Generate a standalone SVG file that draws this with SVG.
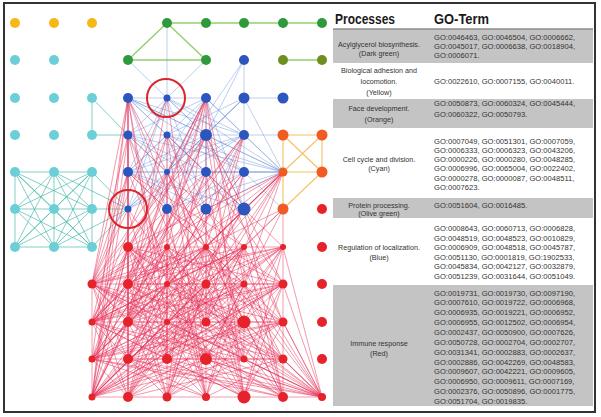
<svg xmlns="http://www.w3.org/2000/svg" width="601" height="417" viewBox="0 0 601 417">
<style>
.re{fill:none;stroke:#e8365d;stroke-opacity:.5;stroke-width:1}
.be{fill:none;stroke:#5f86d4;stroke-opacity:.45;stroke-width:.9}
.ce{fill:none;stroke:#3db7a6;stroke-opacity:.65;stroke-width:1}
.oe{fill:none;stroke:#f5b548;stroke-opacity:.85;stroke-width:1.1}
.ge{fill:none;stroke:#93cf6f;stroke-width:1.4}
.y{fill:#f7b716}.c{fill:#6ccfd8}.g{fill:#2f9a3c}.ol{fill:#6e8e22}.b{fill:#2b56bd}.r{fill:#e6222b}.or{fill:#f15a24}
.hl{fill:none;stroke:#d9262c;stroke-width:2}
.row{fill:#c4c4c4}
.t{font-family:"Liberation Sans",Arial,sans-serif;font-size:7.6px;fill:#333333}
.l{font-family:"Liberation Sans",Arial,sans-serif;font-size:7.2px;fill:#333333;text-anchor:middle}
.h{font-family:"Liberation Sans",Arial,sans-serif;font-size:14px;font-weight:bold;fill:#1a1a1a}
</style>
<rect x="0" y="0" width="601" height="417" fill="#ffffff"/>
<g id="connectors">
<g id="green-edges">
<path class="ge" d="M167 23L322 23M167 23L128 60M167 23L206 60M128 60L206 60M283 60L322 60"/>
</g>
<g id="orange-edges">
<path class="oe" d="M283 135L322 135M283 135L283 209M322 135L322 172M283 135L322 172M322 135L283 172M283 172L322 172M283 209L322 172"/>
</g>
<g id="cyan-edges">
<path class="ce" d="M92 98L92 135M92 98L128 135M92 135L128 135"/>
<path class="ce" d="M15 172L92 172M15 209L92 209M15 247L92 247M15 172L15 247M54 172L54 247M92 172L92 247"/>
<path class="ce" d="M15 172L54 209M15 172L92 209M15 172L54 247M15 172L92 247"/>
<path class="ce" d="M54 172L15 209M54 172L92 209M54 172L15 247M54 172L92 247"/>
<path class="ce" d="M92 172L15 209M92 172L54 209M92 172L15 247M92 172L54 247"/>
<path class="ce" d="M15 209L54 247M15 209L92 247M54 209L15 247M54 209L92 247M92 209L15 247M92 209L54 247"/>
<path class="ce" d="M92 172L128 209M54 172L128 209M92 209L128 209M92 247L128 209M54 247L128 209"/>
</g>
<g id="blue-edges">
<path class="be" d="M167 23L167 98M128 60L167 98M206 60L167 98M128 98L206 98M244 98L283 98M128 98L128 209M244 135L244 209M206 98L206 209M244 60L244 98M244 60L206 135M244 60L167 172"/>
<path class="be" d="M128 98L206 135M128 98L244 172M128 98L167 209M128 98L244 135M128 98L206 172M128 98L283 172M128 98L167 135"/>
<path class="be" d="M167 98L128 135M167 98L206 135M167 98L128 172M167 98L244 172M167 98L206 209M167 98L167 135M167 98L244 135M167 98L283 172M167 98L128 209"/>
<path class="be" d="M206 98L128 135M206 98L167 172M206 98L244 135M206 98L128 209M206 98L244 209M206 98L283 172M206 98L128 172"/>
<path class="be" d="M244 98L206 135M244 98L167 172M244 98L128 209M244 98L244 135M244 98L283 172M244 98L167 135"/>
<path class="be" d="M128 135L206 172M128 135L244 209M128 135L167 172M128 135L244 135M128 135L283 172M128 135L167 209"/>
<path class="be" d="M167 135L244 172M167 135L128 172M167 135L206 209M167 135L167 209M167 135L283 172M167 135L244 209"/>
<path class="be" d="M206 135L128 172M206 135L244 209M206 135L167 209M206 135L206 172M206 135L283 172M206 135L128 209"/>
<path class="be" d="M244 135L128 209M244 135L167 172M244 135L283 172M244 135L283 135M244 135L206 209M244 135L128 172"/>
<path class="be" d="M128 172L206 209M128 172L244 172M128 172L283 172M128 172L244 209M206 172L128 209M206 172L244 209M206 172L283 172"/>
<path class="be" d="M244 172L283 172M244 172L167 209M244 172L283 209M167 209L283 172M206 209L283 172M244 209L283 172"/>
</g>
<g id="red-edges">
<path class="re" d="M92 397L322 397M92 284L92 397M283 209L283 397M128 247L128 397M92 284L283 284M128 247L283 247"/>
<path class="re" d="M92 284L128 247M92 284L206 247M92 284L283 247M92 284L167 322M92 284L244 322M92 284L128 359M92 284L206 359M92 284L283 359M92 284L128 397M92 284L206 397M92 284L283 397M92 284L128 322M92 284L322 397"/>
<path class="re" d="M92 322L167 247M92 322L244 247M92 322L128 284M92 322L206 284M92 322L283 284M92 322L283 322M92 322L167 359M92 322L244 359M92 322L167 397M92 322L244 397M92 322L128 397M92 322L322 397"/>
<path class="re" d="M92 359L128 247M92 359L206 247M92 359L167 284M92 359L244 284M92 359L128 322M92 359L206 322M92 359L283 322M92 359L283 359M92 359L128 397M92 359L206 397M92 359L283 397M92 359L322 397"/>
<path class="re" d="M92 397L167 247M92 397L244 247M92 397L128 284M92 397L206 284M92 397L283 284M92 397L167 322M92 397L244 322M92 397L128 359M92 397L206 359M92 397L128 247M92 397L244 284M92 397L128 322"/>
<path class="re" d="M128 247L206 284M128 247L283 284M128 247L92 322M128 247L167 322M128 247L244 322M128 247L206 359M128 247L283 359M128 247L92 397M128 247L167 397M128 247L244 397M128 247L322 397"/>
<path class="re" d="M167 247L92 284M167 247L244 284M167 247L128 322M167 247L206 322M167 247L283 322M167 247L92 359M167 247L167 359M167 247L244 359M167 247L128 397M167 247L206 397M167 247L283 397"/>
<path class="re" d="M206 247L128 284M206 247L283 284M206 247L92 322M206 247L167 322M206 247L244 322M206 247L128 359M206 247L283 359M206 247L92 397M206 247L167 397M206 247L244 397M206 247L322 397"/>
<path class="re" d="M244 247L92 284M244 247L167 284M244 247L128 322M244 247L206 322M244 247L92 322M244 247L167 359M244 247L244 359M244 247L128 397M244 247L206 397M244 247L283 397M244 247L322 397"/>
<path class="re" d="M283 247L128 284M283 247L206 284M283 247L92 322M283 247L167 322M283 247L244 322M283 247L128 359M283 247L206 359M283 247L92 397M283 247L167 397M283 247L244 397M283 247L322 397"/>
<path class="re" d="M128 284L283 284M128 284L206 322M128 284L283 322M128 284L167 359M128 284L244 359M128 284L167 397M128 284L244 397M128 284L322 397M128 284L92 322"/>
<path class="re" d="M167 284L92 322M167 284L244 322M167 284L128 359M167 284L206 359M167 284L283 359M167 284L128 397M167 284L206 397M167 284L283 397M167 284L322 397"/>
<path class="re" d="M206 284L128 322M206 284L283 322M206 284L92 359M206 284L167 359M206 284L244 359M206 284L92 397M206 284L167 397M206 284L244 397M206 284L322 397"/>
<path class="re" d="M244 284L92 322M244 284L167 322M244 284L128 359M244 284L206 359M244 284L283 359M244 284L128 397M244 284L206 397M244 284L283 397M244 284L322 397"/>
<path class="re" d="M283 284L128 322M283 284L206 322M283 284L92 359M283 284L167 359M283 284L244 359M283 284L92 397M283 284L167 397M283 284L244 397M283 284L322 397"/>
<path class="re" d="M128 322L283 322M128 322L206 359M128 322L283 359M128 322L92 397M128 322L167 397M128 322L244 397M128 322L322 397"/>
<path class="re" d="M167 322L92 359M167 322L244 359M167 322L128 397M167 322L206 397M167 322L283 397M167 322L322 397"/>
<path class="re" d="M206 322L128 359M206 322L283 359M206 322L92 397M206 322L167 397M206 322L244 397M206 322L322 397"/>
<path class="re" d="M244 322L92 359M244 322L167 359M244 322L128 397M244 322L206 397M244 322L283 397M244 322L322 397"/>
<path class="re" d="M283 322L128 359M283 322L206 359M283 322L92 397M283 322L167 397M283 322L244 397M283 322L322 397"/>
<path class="re" d="M128 359L283 359M128 359L206 397M128 359L283 397M128 359L322 397M167 359L92 397M167 359L244 397M167 359L322 397"/>
<path class="re" d="M206 359L128 397M206 359L283 397M206 359L322 397M244 359L92 397M244 359L167 397M244 359L322 397M283 359L128 397M283 359L206 397M283 359L322 397"/>
<path class="re" d="M128 98L92 284M128 98L128 322M128 98L92 359M128 98L128 397M128 98L206 247M128 98L206 284M128 98L167 322M128 98L92 397M128 98L167 359M128 98L128 247"/>
<path class="re" d="M206 98L128 284M206 98L92 322M206 98L128 359M206 98L167 397M206 98L128 247M206 98L244 284M206 98L206 322M206 98L92 359M206 98L244 397M206 98L167 247"/>
<path class="re" d="M167 98L128 322M167 98L206 359M167 98L92 284"/>
<path class="re" d="M128 135L167 284M128 135L206 322M128 135L128 359M128 135L92 397M128 135L92 284M128 135L244 247"/>
<path class="re" d="M167 135L128 284M167 135L244 322M167 135L167 359M167 135L206 397M167 135L283 247M167 135L92 322"/>
<path class="re" d="M206 135L128 322M206 135L92 284M206 135L244 359M206 135L92 397M206 135L283 322M206 135L283 284M206 135L128 247"/>
<path class="re" d="M244 135L128 284M244 135L92 322M244 135L167 359M244 135L128 397M244 135L206 284M244 135L92 359"/>
<path class="re" d="M128 172L244 284M128 172L283 322M128 172L206 359M128 172L92 397M128 172L244 247M128 172L92 322M128 172L92 284"/>
<path class="re" d="M167 172L92 284M167 172L128 322M167 172L244 359M167 172L283 397M167 172L167 397"/>
<path class="re" d="M206 172L167 284M206 172L92 322M206 172L128 359M206 172L244 397M206 172L128 247M206 172L283 284"/>
<path class="re" d="M244 172L92 284M244 172L128 322M244 172L92 359M244 172L167 397M244 172L206 322"/>
<path class="re" d="M128 209L92 284M128 209L206 322M128 209L167 359M128 209L128 397"/>
<path class="re" d="M167 209L283 284M167 209L128 322M167 209L92 359M167 209L206 397M167 209L128 284"/>
<path class="re" d="M206 209L92 322M206 209L128 359M206 209L206 397M206 209L167 284M206 209L322 397"/>
<path class="re" d="M244 209L128 284M244 209L92 359M244 209L167 322M244 209L283 397M244 209L128 397"/>
<path class="re" d="M283 172L128 247M283 172L92 284M283 172L167 284M283 172L128 322M283 172L206 322M283 172L167 359M283 172L206 247M283 172L92 322M283 172L92 359M283 172L244 284M283 172L128 397M283 172L92 397"/>
<path class="re" d="M283 209L128 284M283 209L167 322M283 209L206 359M283 209L92 397"/>
</g>
</g>
<g id="nodes">
<g id="y1"><circle class="y" cx="15" cy="23" r="5"/></g>
<g id="y2"><circle class="y" cx="54" cy="23" r="5"/></g>
<g id="y3"><circle class="y" cx="92" cy="23" r="5"/></g>
<g id="g1"><circle class="g" cx="167" cy="23" r="5"/></g>
<g id="g2"><circle class="g" cx="206" cy="23" r="5"/></g>
<g id="g3"><circle class="g" cx="244" cy="23" r="5"/></g>
<g id="g4"><circle class="g" cx="283" cy="23" r="5"/></g>
<g id="g5"><circle class="g" cx="322" cy="23" r="5"/></g>
<g id="g6"><circle class="g" cx="128" cy="60" r="5"/></g>
<g id="g7"><circle class="g" cx="206" cy="60" r="5"/></g>
<g id="ol1"><circle class="ol" cx="283" cy="60" r="5"/></g>
<g id="ol2"><circle class="ol" cx="322" cy="60" r="5"/></g>
<g id="c1"><circle class="c" cx="15" cy="60" r="5"/></g>
<g id="c2"><circle class="c" cx="54" cy="60" r="5"/></g>
<g id="c3"><circle class="c" cx="15" cy="98" r="5"/></g>
<g id="c4"><circle class="c" cx="54" cy="98" r="5"/></g>
<g id="c5"><circle class="c" cx="92" cy="98" r="5"/></g>
<g id="c6"><circle class="c" cx="15" cy="135" r="5"/></g>
<g id="c7"><circle class="c" cx="54" cy="135" r="5"/></g>
<g id="c8"><circle class="c" cx="92" cy="135" r="5"/></g>
<g id="c9"><circle class="c" cx="15" cy="172" r="5"/></g>
<g id="c10"><circle class="c" cx="54" cy="172" r="5"/></g>
<g id="c11"><circle class="c" cx="92" cy="172" r="5"/></g>
<g id="c12"><circle class="c" cx="15" cy="209" r="5"/></g>
<g id="c13"><circle class="c" cx="54" cy="209" r="5"/></g>
<g id="c14"><circle class="c" cx="92" cy="209" r="5"/></g>
<g id="c15"><circle class="c" cx="15" cy="247" r="5"/></g>
<g id="c16"><circle class="c" cx="54" cy="247" r="5"/></g>
<g id="c17"><circle class="c" cx="92" cy="247" r="5"/></g>
<g id="b1"><circle class="b" cx="244" cy="60" r="5"/></g>
<g id="b2"><circle class="b" cx="128" cy="98" r="5"/></g>
<g id="b3"><circle class="b" cx="167" cy="98" r="3.5"/></g>
<g id="b4"><circle class="b" cx="206" cy="98" r="5"/></g>
<g id="b5"><circle class="b" cx="244" cy="98" r="5.5"/></g>
<g id="b6"><circle class="b" cx="283" cy="98" r="5.5"/></g>
<g id="b7"><circle class="b" cx="128" cy="135" r="4.5"/></g>
<g id="b8"><circle class="b" cx="167" cy="135" r="3.5"/></g>
<g id="b9"><circle class="b" cx="206" cy="135" r="6"/></g>
<g id="b10"><circle class="b" cx="244" cy="135" r="5"/></g>
<g id="b11"><circle class="b" cx="128" cy="172" r="5"/></g>
<g id="b12"><circle class="b" cx="167" cy="172" r="3"/></g>
<g id="b13"><circle class="b" cx="206" cy="172" r="5"/></g>
<g id="b14"><circle class="b" cx="244" cy="172" r="5"/></g>
<g id="b15"><circle class="b" cx="128" cy="209" r="3.5"/></g>
<g id="b16"><circle class="b" cx="167" cy="209" r="5"/></g>
<g id="b17"><circle class="b" cx="206" cy="209" r="5.5"/></g>
<g id="b18"><circle class="b" cx="244" cy="209" r="6.5"/></g>
<g id="o1"><circle class="or" cx="283" cy="135" r="5.5"/></g>
<g id="o2"><circle class="or" cx="322" cy="135" r="5.5"/></g>
<g id="o3"><circle class="or" cx="283" cy="172" r="4.5"/></g>
<g id="o4"><circle class="or" cx="322" cy="172" r="5.5"/></g>
<g id="o5"><circle class="or" cx="283" cy="209" r="5.5"/></g>
<g id="r1"><circle class="r" cx="322" cy="209" r="5"/></g>
<g id="r2"><circle class="r" cx="322" cy="247" r="5"/></g>
<g id="r3"><circle class="r" cx="322" cy="284" r="5"/></g>
<g id="r4"><circle class="r" cx="322" cy="322" r="5"/></g>
<g id="r5"><circle class="r" cx="322" cy="359" r="5"/></g>
<g id="r6"><circle class="r" cx="128" cy="247" r="5"/></g>
<g id="r7"><circle class="r" cx="167" cy="247" r="3"/></g>
<g id="r8"><circle class="r" cx="206" cy="247" r="3"/></g>
<g id="r9"><circle class="r" cx="244" cy="247" r="3"/></g>
<g id="r10"><circle class="r" cx="283" cy="247" r="3"/></g>
<g id="r11"><circle class="r" cx="92" cy="284" r="4.5"/></g>
<g id="r12"><circle class="r" cx="128" cy="284" r="5"/></g>
<g id="r13"><circle class="r" cx="167" cy="284" r="3"/></g>
<g id="r14"><circle class="r" cx="206" cy="284" r="4.5"/></g>
<g id="r15"><circle class="r" cx="244" cy="284" r="3.5"/></g>
<g id="r16"><circle class="r" cx="283" cy="284" r="4.5"/></g>
<g id="r17"><circle class="r" cx="92" cy="322" r="3.5"/></g>
<g id="r18"><circle class="r" cx="128" cy="322" r="5"/></g>
<g id="r19"><circle class="r" cx="167" cy="322" r="3"/></g>
<g id="r20"><circle class="r" cx="206" cy="322" r="4.5"/></g>
<g id="r21"><circle class="r" cx="244" cy="322" r="6.5"/></g>
<g id="r22"><circle class="r" cx="283" cy="322" r="4.5"/></g>
<g id="r23"><circle class="r" cx="92" cy="359" r="3.5"/></g>
<g id="r24"><circle class="r" cx="128" cy="359" r="5"/></g>
<g id="r25"><circle class="r" cx="167" cy="359" r="5"/></g>
<g id="r26"><circle class="r" cx="206" cy="359" r="6"/></g>
<g id="r27"><circle class="r" cx="244" cy="359" r="3.5"/></g>
<g id="r28"><circle class="r" cx="283" cy="359" r="4.5"/></g>
<g id="r29"><circle class="r" cx="92" cy="397" r="3.5"/></g>
<g id="r30"><circle class="r" cx="128" cy="397" r="5"/></g>
<g id="r31"><circle class="r" cx="167" cy="397" r="4.5"/></g>
<g id="r32"><circle class="r" cx="206" cy="397" r="4"/></g>
<g id="r33"><circle class="r" cx="244" cy="397" r="6.5"/></g>
<g id="r34"><circle class="r" cx="283" cy="397" r="5"/></g>
<g id="r35"><circle class="r" cx="322" cy="397" r="4"/></g>
</g>
<g id="highlights">
<circle class="hl" cx="166" cy="98" r="19"/>
<circle class="hl" cx="128" cy="209" r="19"/>
</g>
<g id="table">
<rect class="row" x="333" y="29" width="260" height="34"/>
<line x1="333" y1="29" x2="593" y2="29" stroke="#8c8c8c" stroke-width="1.5"/>
<rect class="row" x="333" y="99" width="260" height="29"/>
<rect class="row" x="333" y="198" width="260" height="20"/>
<rect class="row" x="333" y="285" width="260" height="121"/>
<text class="h" x="335" y="23.5" textLength="60" lengthAdjust="spacingAndGlyphs">Processes</text>
<text class="h" x="434" y="23.5" textLength="55" lengthAdjust="spacingAndGlyphs">GO-Term</text>
<text class="l" x="379" y="46.8">Acylglycerol biosynthesis.</text>
<text class="l" x="379" y="55.8">(Dark green)</text>
<text class="t" x="434" y="39.6">GO:0046463, GO:0046504, GO:0006662,</text>
<text class="t" x="434" y="48.8">GO:0045017, GO:0006638, GO:0018904,</text>
<text class="t" x="434" y="58">GO:0006071.</text>
<text class="l" x="379" y="72.8">Biological adhesion and</text>
<text class="l" x="379" y="83.8">locomotion.</text>
<text class="l" x="379" y="94.8">(Yellow)</text>
<text class="t" x="434" y="83.8">GO:0022610, GO:0007155, GO:0040011.</text>
<text class="l" x="379" y="110.8">Face development.</text>
<text class="l" x="379" y="121.8">(Orange)</text>
<text class="t" x="434" y="106">GO:0050873, GO:0060324, GO:0045444,</text>
<text class="t" x="434" y="116.8">GO:0060322, GO:0050793.</text>
<text class="l" x="379" y="162.1">Cell cycle and division.</text>
<text class="l" x="379" y="171.1">(Cyan)</text>
<text class="t" x="434" y="143.5">GO:0007049, GO:0051301, GO:0007059,</text>
<text class="t" x="434" y="152.8">GO:0006333, GO:0006323, GO:0043206,</text>
<text class="t" x="434" y="162.1">GO:0000226, GO:0000280, GO:0048285,</text>
<text class="t" x="434" y="171.1">GO:0006996, GO:0065004, GO:0022402,</text>
<text class="t" x="434" y="180.5">GO:0000278, GO:0000087, GO:0048511,</text>
<text class="t" x="434" y="189.5">GO:0007623.</text>
<text class="l" x="379" y="207.6">Protein processing.</text>
<text class="l" x="379" y="216.4">(Olive green)</text>
<text class="t" x="434" y="207.8">GO:0051604, GO:0016485.</text>
<text class="l" x="379" y="250.1">Regulation of localization.</text>
<text class="l" x="379" y="259.5">(Blue)</text>
<text class="t" x="434" y="230.8">GO:0008643, GO:0060713, GO:0006828,</text>
<text class="t" x="434" y="240.5">GO:0048519, GO:0048523, GO:0010829,</text>
<text class="t" x="434" y="250.1">GO:0006909, GO:0048518, GO:0045787,</text>
<text class="t" x="434" y="259.5">GO:0051130, GO:0001819, GO:1902533,</text>
<text class="t" x="434" y="268.8">GO:0045834, GO:0042127, GO:0032879,</text>
<text class="t" x="434" y="278.5">GO:0051239, GO:0031644, GO:0051049.</text>
<text class="l" x="379" y="345.8">Immune response</text>
<text class="l" x="379" y="356">(Red)</text>
<text class="t" x="434" y="295.5">GO:0019731, GO:0019730, GO:0097190,</text>
<text class="t" x="434" y="305.3">GO:0007610, GO:0019722, GO:0006968,</text>
<text class="t" x="434" y="315.2">GO:0006935, GO:0019221, GO:0006952,</text>
<text class="t" x="434" y="325">GO:0006955, GO:0012502, GO:0006954,</text>
<text class="t" x="434" y="334.9">GO:0002437, GO:0050900, GO:0007626,</text>
<text class="t" x="434" y="344.8">GO:0050728, GO:0002704, GO:0002707,</text>
<text class="t" x="434" y="354.6">GO:0031341, GO:0002883, GO:0002637,</text>
<text class="t" x="434" y="364.5">GO:0002886, GO:0042269, GO:0048583,</text>
<text class="t" x="434" y="374.3">GO:0009607, GO:0042221, GO:0009605,</text>
<text class="t" x="434" y="384.2">GO:0006950, GO:0009611, GO:0007169,</text>
<text class="t" x="434" y="394">GO:0002376, GO:0050896, GO:0001775,</text>
<text class="t" x="434" y="403.8">GO:0051704, GO:0019835.</text>
</g>
<rect x="4" y="3" width="591" height="409" fill="none" stroke="#333333" stroke-width="2"/>
</svg>
